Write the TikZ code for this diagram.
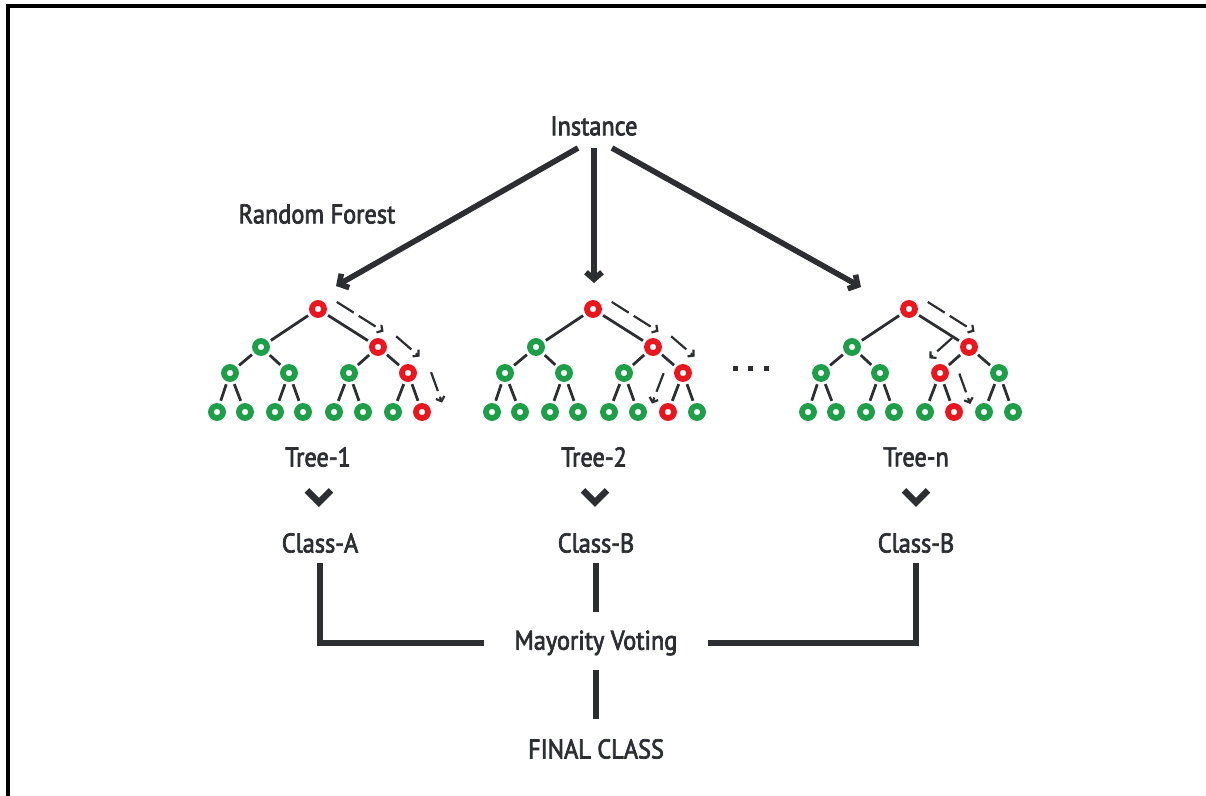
\documentclass[tikz,border=0pt]{standalone}
\usepackage{fontspec}
\setmainfont[FakeStretch=0.9, FakeBold=2.6]{PT Sans}
\usetikzlibrary{calc}
\usetikzlibrary{arrows.meta}
\usetikzlibrary{positioning}

\definecolor{rfgreen}{RGB}{30,158,72}
\definecolor{rfred}{RGB}{232,22,30}
\definecolor{rfink}{RGB}{44,46,50}

\tikzset{
  ring/.style={circle, draw=#1, line width=2.9pt, fill=white, inner sep=0pt, minimum size=6pt},
  ring/.default=rfgreen,
  txt/.style={text=rfink, font=\fontsize{13.5}{15}\selectfont, inner sep=2pt},
  limb/.style={draw=rfink, line width=1.4pt, shorten <=1.5pt, shorten >=1.5pt},
  trail/.style={draw=rfink, line width=1.1pt, dash pattern=on 10pt off 3pt, -{Straight Barb[length=2pt,width=4.5pt]}},
  feed/.style={draw=rfink, line width=2.8pt, -{Straight Barb[length=3.5pt,width=8pt]}},
  bar/.style={draw=rfink, line width=2.8pt},
  vee/.style={draw=rfink, line width=3.2pt},
}

% one decision tree: name, root x, heap index of the leaf that is reached
\newcommand{\rftree}[3]{%
  \foreach \i/\dx/\dy/\d in {1/0/309/0, 2/-57/347/1, 3/60/347/1,
      4/-88/373/2, 5/-29/373/2, 6/31/373/2, 7/90/373/2,
      8/-101/412/3, 9/-73/412/3, 10/-43/412/3, 11/-15/412/3,
      12/16/412/3, 13/45/412/3, 14/75/412/3, 15/104/412/3} {
    \pgfmathtruncatemacro\up{floor(#3/2^(3-\d))}
    \ifnum\up=\i \def\hue{rfred}\else\def\hue{rfgreen}\fi
    \node[ring=\hue] (#1-\i) at (#2+\dx,\dy) {};
  }
  \foreach \i in {2,...,15} {
    \pgfmathtruncatemacro\p{\i/2}
    \draw[limb] (#1-\p) -- (#1-\i);
  }
}
% dashed path beside an edge, #3 = side offset
\newcommand{\trail}[3]{%
  \draw[trail] ($(#1)!0.17!(#2)!#3!90:(#2)$) -- ($(#1)!0.95!(#2)!#3!90:(#2)$);
}

\begin{document}
\begin{tikzpicture}[x=0.5pt, y=-0.5pt]
\useasboundingbox (0,0) rectangle (1206,796);
\draw [line width=2pt] (8,796) -- (8,6.3) -- (1206,6.3);

\node [txt] (ins) at (594,126) {Instance};
\node [txt] (rf) at (317,214) {Random Forest};

\rftree{t1}{318}{15}
\rftree{t2}{593}{14}
\rftree{tn}{909}{13}

\trail{t1-1}{t1-3}{8pt}
\trail{t1-3}{t1-7}{10pt}
\trail{t1-7}{t1-15}{11pt}
\trail{t2-1}{t2-3}{8pt}
\trail{t2-3}{t2-7}{10pt}
\trail{t2-7}{t2-14}{-9pt}
\trail{tn-1}{tn-3}{8pt}
\trail{tn-3}{tn-6}{-9pt}
\trail{tn-6}{tn-13}{9pt}

\foreach \x in {735,750,766}
  \fill [rfink] (\x-2.5,366.5) rectangle ++(5,5);

\coordinate (in1) at (336,286);
\coordinate (in2) at (594,283);
\coordinate (in3) at (861,287);
\draw [feed] ([xshift=-8pt,yshift=-4pt]ins.south) -- (in1);
\draw [feed] ([yshift=-4pt]ins.south) -- (in2);
\draw [feed] ([xshift=9pt,yshift=-4pt]ins.south) -- (in3);

\node [txt] (tl1) at (318,457) {Tree-1};
\node [txt] (tl2) at (594,457) {Tree-2};
\node [txt] (tln) at (916,457) {Tree-n};
\node [txt] (c1) at (320,543) {Class-A};
\node [txt] (c2) at (596,543) {Class-B};
\node [txt] (cn) at (916,543) {Class-B};

\draw [vee] ($(tl1)!0.47!(c1)$) ++(-12,-7) -- ++(12,12) -- ++(12,-12);
\draw [vee] ($(tl2)!0.47!(c2)$) ++(-12,-7) -- ++(12,12) -- ++(12,-12);
\draw [vee] ($(tln)!0.47!(cn)$) ++(-12,-7) -- ++(12,12) -- ++(12,-12);

\node [txt] (mv) at (596,643) {Mayority Voting};
\node [txt] (fc) at (596,749) {FINAL CLASS};

\draw [bar, shorten <=3pt, shorten >=13pt] (c1) |- (mv);
\draw [bar, shorten <=3pt, shorten >=13pt] (cn) |- (mv);
\draw [bar, shorten <=3pt, shorten >=7pt] (c2) -- (mv);
\draw [bar, shorten <=5pt, shorten >=8pt] (mv) -- (fc);
\end{tikzpicture}
\end{document}
